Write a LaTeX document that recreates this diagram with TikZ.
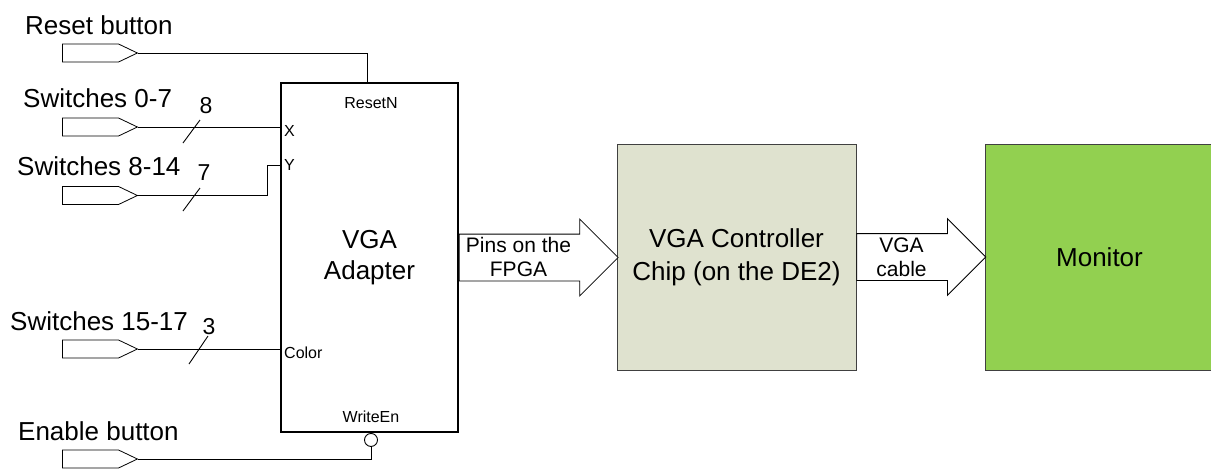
\documentclass[tikz,border=0pt]{standalone}
\usepackage{fontspec}
\setmainfont{Liberation Sans}
\usetikzlibrary{shapes.symbols,shapes.arrows}
\definecolor{chipfill}{HTML}{DFE2CF}
\definecolor{monfill}{HTML}{92D050}
\begin{document}
\begin{tikzpicture}[x=1pt,y=-1pt]
\useasboundingbox (0,0) rectangle (1211,469);
\tikzstyle{port}=[draw,signal,signal to=east,signal pointer angle=51,minimum width=75pt,minimum height=18pt,inner sep=0,line width=0.8pt,anchor=west]
\tikzstyle{wire}=[line width=0.9pt]
\tikzstyle{pin}=[font=\fontsize{16}{16}\selectfont,inner sep=0]
\tikzstyle{title}=[font=\fontsize{26}{26}\selectfont,inner sep=0,anchor=base west]
\tikzstyle{width}=[font=\fontsize{23}{23}\selectfont,inner sep=0,anchor=base]
\tikzstyle{bus}=[draw,single arrow,single arrow head extend=15pt,minimum width=76pt,inner xsep=0,inner ysep=23pt,anchor=tail,fill=white,line width=0.8pt]
\tikzstyle{block}=[draw=black!75,line width=0.8pt,minimum height=226pt,inner sep=0,align=center,font=\fontsize{26}{33}\selectfont]
% adapter block
\node[draw,line width=1.5pt,minimum width=177pt,minimum height=349pt,inner sep=0](adp) at (369.5,257.5) {};
\node[align=center,font=\fontsize{26}{31}\selectfont](adptext) at (adp.center) {VGA\\Adapter};
\node[pin,anchor=base](rsn) at (371,108) {ResetN};
\node[pin,anchor=base west](px) at (284,136) {X};
\node[pin,anchor=base west](py) at (284,170) {Y};
\node[pin,anchor=base west](pc) at (284,358) {Color};
\node[pin,anchor=base](pw) at (371,422) {WriteEn};
\node[draw,circle,line width=0.9pt,minimum size=13pt,inner sep=0,anchor=north](wen) at (371,433) {};
\coordinate (rstin) at (367,83);
\coordinate (yin) at (281,165);
% inputs
\node[title](trst) at (25,34) {Reset button};
\node[title](tsw0) at (23,107) {Switches 0-7};
\node[title](tsw8) at (17,175) {Switches 8-14};
\node[title](tsw15) at (10,330) {Switches 15-17};
\node[title](ten) at (18,440) {Enable button};
\node[port](rst) at (62,53) {};
\node[port](sw0) at (62,127) {};
\node[port](sw8) at (62,195.5) {};
\node[port](sw15) at (62,349) {};
\node[port](en) at (62,459) {};
\draw[wire] (rst.east) -| (rstin);
\draw[wire] (sw0.east) -- (sw0.east -| adp.west);
\draw[wire] (sw8.east) -- ++(129,0) |- (yin);
\draw[wire] (sw15.east) -- (sw15.east -| adp.west);
\draw[wire] (en.east) -| (wen.south);
% bus widths
\draw[wire] (183,143) -- (200,120);
\draw[wire] (183,211) -- (200,188);
\draw[wire] (189,364) -- (208,336);
\node[width](w8) at (206,113) {8};
\node[width](w7) at (204,180) {7};
\node[width](w3) at (209,334) {3};
% chip and monitor
\node[block,fill=chipfill,minimum width=239pt](ctl) at (736.5,257) {VGA Controller\\Chip (on the DE2)};
\node[block,fill=monfill,minimum width=229pt](mon) at (1099.5,257) {Monitor};
\node[bus,minimum height=159pt](pins) at (adp.east) {};
\node[align=center,font=\fontsize{21}{24}\selectfont,inner sep=0](tpins) at (518.5,257) {Pins on the\\FPGA};
\node[bus,minimum height=129pt](cable) at (ctl.east) {};
\node[align=center,font=\fontsize{21}{24}\selectfont,inner sep=0](tcable) at (901.5,257) {VGA\\cable};
\end{tikzpicture}
\end{document}
